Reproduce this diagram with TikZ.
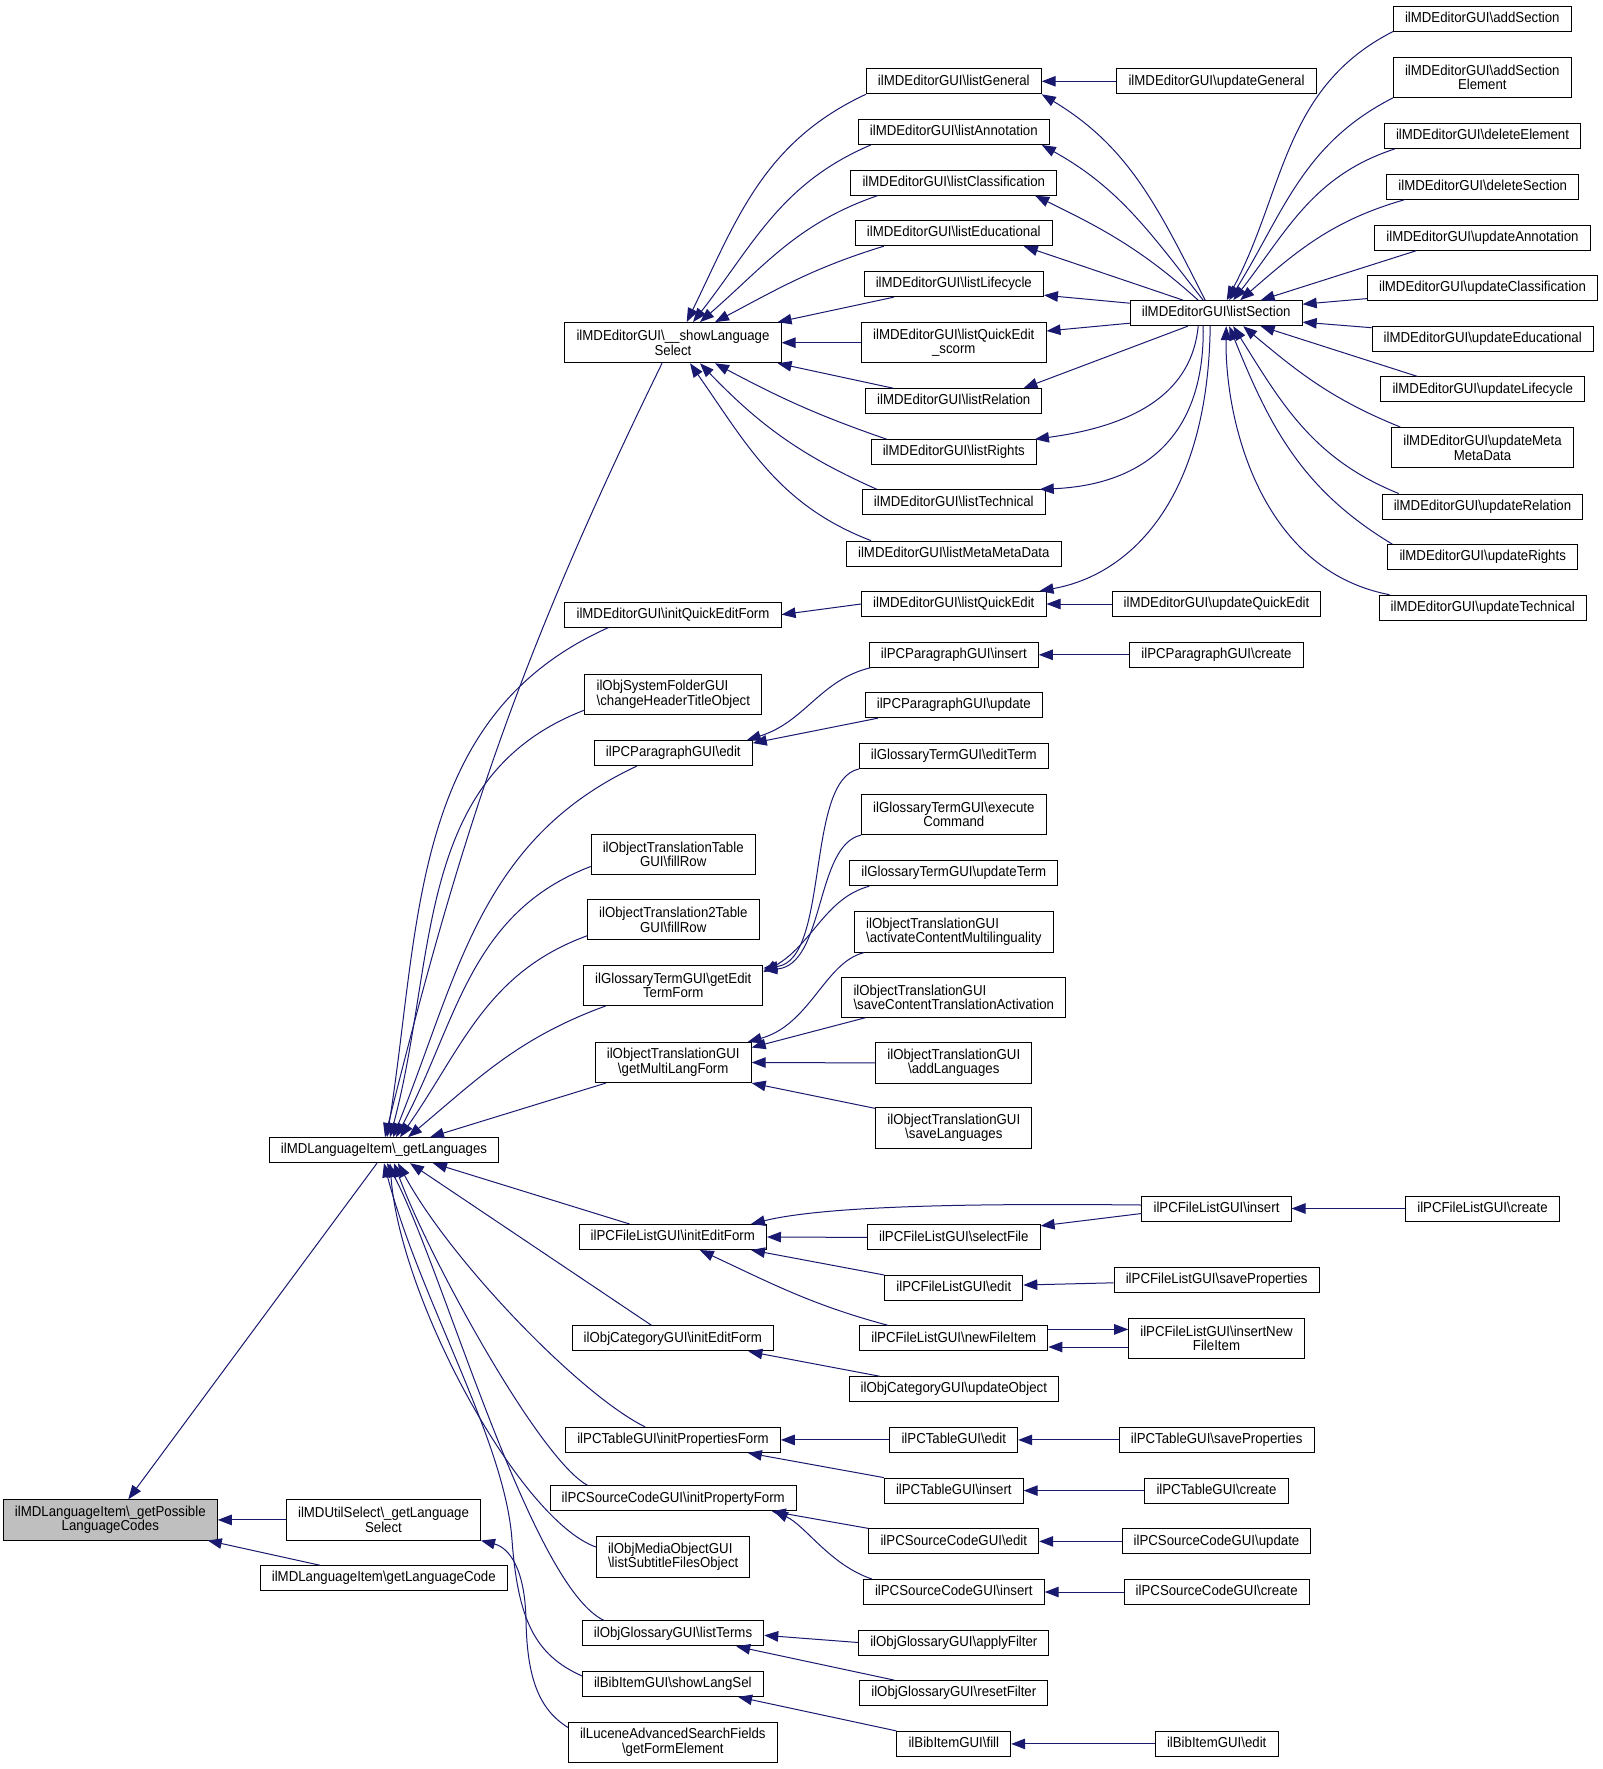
\documentclass[tikz,border=0pt]{standalone}
\usepackage{fontspec}
\setmainfont{Liberation Sans}[FakeStretch=0.92]
\usetikzlibrary{arrows.meta}
\definecolor{edgeblue}{HTML}{191970}
\definecolor{boxgray}{HTML}{BFBFBF}
\newcommand{\bksl}{\textbackslash{}}
\tikzset{
  fn/.style={draw=black,line width=1pt,fill=white,inner xsep=11.6pt,inner ysep=0pt,
    minimum height=25pt,text height=10.5pt,text depth=3pt,font=\fontsize{14.4}{14.5}\selectfont},
  fntwo/.style={draw=black,line width=1pt,fill=white,inner xsep=11.6pt,inner ysep=6pt,
    minimum height=40.2pt,align=center,font=\fontsize{14.4}{14.5}\selectfont},
  call/.style={draw=edgeblue,line width=1pt,-{Triangle[length=14pt,width=10.5pt]}}
}
\begin{document}
\begin{tikzpicture}[x=1pt,y=1pt]
\fill[white] (0,0) rectangle (1603,-1769);
\useasboundingbox (0,0) rectangle (1603,-1769);
\node[fntwo,fill=boxgray] (possible) at (110.3,-1519.9) {ilMDLanguageItem\bksl\_getPossible\\LanguageCodes};
\node[fn] (getlang) at (384,-1150.2) {ilMDLanguageItem\bksl\_getLanguages};
\node[fntwo] (langselect) at (383.5,-1519.9) {ilMDUtilSelect\bksl\_getLanguage\\Select};
\node[fn] (langcode) at (383.8,-1578.2) {ilMDLanguageItem\bksl getLanguageCode};
\node[fntwo] (showlang) at (673,-342.7) {ilMDEditorGUI\bksl\_\_showLanguage\\Select};
\node[fn] (initqe) at (673,-614.6) {ilMDEditorGUI\bksl initQuickEditForm};
\node[fntwo,align=left] (chheader) at (673.3,-694.5) {ilObjSystemFolderGUI\\\bksl changeHeaderTitleObject};
\node[fn] (paraedit) at (673.3,-753.1) {ilPCParagraphGUI\bksl edit};
\node[fntwo] (trtable) at (673.2,-854.5) {ilObjectTranslationTable\\GUI\bksl fillRow};
\node[fntwo] (tr2table) at (673.3,-919.8) {ilObjectTranslation2Table\\GUI\bksl fillRow};
\node[fntwo] (termform) at (673.2,-985.2) {ilGlossaryTermGUI\bksl getEdit\\TermForm};
\node[fntwo] (multilang) at (673.2,-1062.5) {ilObjectTranslationGUI\\\bksl getMultiLangForm};
\node[fn] (flinit) at (672.8,-1237) {ilPCFileListGUI\bksl initEditForm};
\node[fn] (catinit) at (672.8,-1338.4) {ilObjCategoryGUI\bksl initEditForm};
\node[fn] (tabinit) at (673,-1439.9) {ilPCTableGUI\bksl initPropertiesForm};
\node[fn] (srcinit) at (673.2,-1498.3) {ilPCSourceCodeGUI\bksl initPropertyForm};
\node[fntwo,align=left] (mediasub) at (673.2,-1557) {ilObjMediaObjectGUI\\\bksl listSubtitleFilesObject};
\node[fn] (listterms) at (673,-1633.3) {ilObjGlossaryGUI\bksl listTerms};
\node[fn] (showlangsel) at (672.8,-1683.9) {ilBibItemGUI\bksl showLangSel};
\node[fntwo] (lucene) at (672.8,-1742.5) {ilLuceneAdvancedSearchFields\\\bksl getFormElement};
\node[fn] (lgeneral) at (953.8,-81.3) {ilMDEditorGUI\bksl listGeneral};
\node[fn] (lannot) at (953.8,-132) {ilMDEditorGUI\bksl listAnnotation};
\node[fn] (lclass) at (953.8,-182.7) {ilMDEditorGUI\bksl listClassification};
\node[fn] (leduc) at (953.8,-233.2) {ilMDEditorGUI\bksl listEducational};
\node[fn] (llife) at (953.8,-284.2) {ilMDEditorGUI\bksl listLifecycle};
\node[fntwo] (lqescorm) at (953.8,-342.7) {ilMDEditorGUI\bksl listQuickEdit\\\_scorm};
\node[fn] (lrel) at (953.8,-401.2) {ilMDEditorGUI\bksl listRelation};
\node[fn] (lrights) at (953.8,-452.2) {ilMDEditorGUI\bksl listRights};
\node[fn] (ltech) at (953.8,-502.3) {ilMDEditorGUI\bksl listTechnical};
\node[fn] (lmeta) at (953.8,-553.6) {ilMDEditorGUI\bksl listMetaMetaData};
\node[fn] (lqe) at (953.8,-604) {ilMDEditorGUI\bksl listQuickEdit};
\node[fn] (parains) at (953.8,-654.8) {ilPCParagraphGUI\bksl insert};
\node[fn] (paraupd) at (953.8,-705.2) {ilPCParagraphGUI\bksl update};
\node[fn] (editterm) at (953.8,-756) {ilGlossaryTermGUI\bksl editTerm};
\node[fntwo] (execcmd) at (953.8,-814.5) {ilGlossaryTermGUI\bksl execute\\Command};
\node[fn] (updterm) at (953.8,-873.2) {ilGlossaryTermGUI\bksl updateTerm};
\node[fntwo,align=left] (actcontent) at (953.8,-932) {ilObjectTranslationGUI\\\bksl activateContentMultilinguality};
\node[fntwo,align=left] (savecontent) at (953.8,-997.1) {ilObjectTranslationGUI\\\bksl saveContentTranslationActivation};
\node[fntwo] (addlang) at (953.8,-1062.9) {ilObjectTranslationGUI\\\bksl addLanguages};
\node[fntwo] (savelang) at (953.8,-1128) {ilObjectTranslationGUI\\\bksl saveLanguages};
\node[fn] (flselect) at (953.8,-1237.4) {ilPCFileListGUI\bksl selectFile};
\node[fn] (fledit) at (953.8,-1288) {ilPCFileListGUI\bksl edit};
\node[fn] (flnewitem) at (953.8,-1338.4) {ilPCFileListGUI\bksl newFileItem};
\node[fn] (catupd) at (953.8,-1389.2) {ilObjCategoryGUI\bksl updateObject};
\node[fn] (tabedit) at (953.8,-1439.9) {ilPCTableGUI\bksl edit};
\node[fn] (tabins) at (953.8,-1490.6) {ilPCTableGUI\bksl insert};
\node[fn] (srcedit) at (953.8,-1541.4) {ilPCSourceCodeGUI\bksl edit};
\node[fn] (srcins) at (953.8,-1592) {ilPCSourceCodeGUI\bksl insert};
\node[fn] (applyfilter) at (953.8,-1642.5) {ilObjGlossaryGUI\bksl applyFilter};
\node[fn] (resetfilter) at (953.8,-1693.1) {ilObjGlossaryGUI\bksl resetFilter};
\node[fn] (bibfill) at (953.8,-1743.9) {ilBibItemGUI\bksl fill};
\node[fn] (ugeneral) at (1216.5,-81.3) {ilMDEditorGUI\bksl updateGeneral};
\node[fn] (lsection) at (1216.2,-313.2) {ilMDEditorGUI\bksl listSection};
\node[fn] (uqe) at (1216.5,-604) {ilMDEditorGUI\bksl updateQuickEdit};
\node[fn] (paracreate) at (1216.5,-654.8) {ilPCParagraphGUI\bksl create};
\node[fn] (flinsert) at (1216.5,-1208.5) {ilPCFileListGUI\bksl insert};
\node[fn] (flsave) at (1216.7,-1279.8) {ilPCFileListGUI\bksl saveProperties};
\node[fntwo] (flinsnew) at (1216.5,-1338.4) {ilPCFileListGUI\bksl insertNew\\FileItem};
\node[fn] (tabsave) at (1216.7,-1439.9) {ilPCTableGUI\bksl saveProperties};
\node[fn] (tabcreate) at (1216.5,-1490.6) {ilPCTableGUI\bksl create};
\node[fn] (srcupd) at (1216.5,-1541.4) {ilPCSourceCodeGUI\bksl update};
\node[fn] (srccreate) at (1216.7,-1592) {ilPCSourceCodeGUI\bksl create};
\node[fn] (bibedit) at (1216.7,-1743.9) {ilBibItemGUI\bksl edit};
\node[fn] (addsec) at (1482.3,-18.6) {ilMDEditorGUI\bksl addSection};
\node[fntwo] (addsecel) at (1482.3,-77.3) {ilMDEditorGUI\bksl addSection\\Element};
\node[fn] (delel) at (1482.5,-135.9) {ilMDEditorGUI\bksl deleteElement};
\node[fn] (delsec) at (1482.7,-186.8) {ilMDEditorGUI\bksl deleteSection};
\node[fn] (uannot) at (1482.5,-237.7) {ilMDEditorGUI\bksl updateAnnotation};
\node[fn] (uclass) at (1482.5,-287.6) {ilMDEditorGUI\bksl updateClassification};
\node[fn] (ueduc) at (1482.7,-338.7) {ilMDEditorGUI\bksl updateEducational};
\node[fn] (ulife) at (1482.7,-389.4) {ilMDEditorGUI\bksl updateLifecycle};
\node[fntwo] (umeta) at (1482.5,-447.6) {ilMDEditorGUI\bksl updateMeta\\MetaData};
\node[fn] (urel) at (1482.5,-506.5) {ilMDEditorGUI\bksl updateRelation};
\node[fn] (urights) at (1482.7,-557.2) {ilMDEditorGUI\bksl updateRights};
\node[fn] (utech) at (1482.7,-607.7) {ilMDEditorGUI\bksl updateTechnical};
\node[fn] (flcreate) at (1482.5,-1208.5) {ilPCFileListGUI\bksl create};
\draw[call] (addsec.south west) to[out=207,in=62] ([xshift=10.5pt]lsection.north);
\draw[call] (addsecel.south west) to[out=207,in=58] ([xshift=13pt]lsection.north);
\draw[call] ([xshift=11pt]delel.south west) to[out=198,in=52] ([xshift=17pt]lsection.north);
\draw[call] ([xshift=18pt]delsec.south west) to[out=196,in=41] ([xshift=24pt]lsection.north);
\draw[call] ([xshift=42pt]uannot.south west) -- ([xshift=-42pt]lsection.north east);
\draw[call] ([yshift=2pt]uclass.south west) -- ([yshift=9pt]lsection.east);
\draw[call] ([yshift=-2pt]ueduc.north west) -- ([yshift=-9pt]lsection.east);
\draw[call] ([xshift=37pt]ulife.north west) -- ([xshift=-42pt]lsection.south east);
\draw[call] ([xshift=9pt]umeta.north west) to[out=158,in=320] ([xshift=27pt]lsection.south);
\draw[call] ([xshift=17pt]urel.north west) to[out=158,in=302] ([xshift=17pt]lsection.south);
\draw[call] ([xshift=5pt]urights.north west) to[out=149,in=292] ([xshift=13pt]lsection.south);
\draw[call] ([xshift=11pt]utech.north west) .. controls (1260,-570) and (1225,-420) .. ([xshift=10pt]lsection.south);
\draw[call] ([xshift=-11pt]lsection.north) to[out=117,in=329] (lgeneral.south east);
\draw[call] ([xshift=-13pt]lsection.north) to[out=128,in=331] ([xshift=-8pt]lannot.south east);
\draw[call] ([xshift=-18pt]lsection.north) to[out=138,in=334] ([xshift=-22pt]lclass.south east);
\draw[call] ([xshift=-33pt]lsection.north) -- ([xshift=-29pt]leduc.south east);
\draw[call] ([yshift=-3pt]lsection.north west) -- ([yshift=2pt]llife.south east);
\draw[call] ([yshift=3pt]lsection.south west) -- ([yshift=11.7pt]lqescorm.east);
\draw[call] ([xshift=58pt]lsection.south west) -- ([xshift=-19pt]lrel.north east);
\draw[call] ([xshift=-18pt]lsection.south) .. controls (1192,-390) and (1140,-425) .. ([xshift=-2pt]lrights.north east);
\draw[call] ([xshift=-13pt]lsection.south) .. controls (1205,-440) and (1140,-485) .. ([xshift=-6pt]ltech.north east);
\draw[call] ([xshift=-6pt]lsection.south) .. controls (1208,-500) and (1130,-575) .. ([xshift=-7pt]lqe.north east);
\draw[call] (ugeneral.west) -- (lgeneral.east);
\draw[call] (lgeneral.south west) to[out=205,in=64] ([xshift=13.7pt]showlang.north);
\draw[call] ([xshift=13pt]lannot.south west) to[out=203,in=52] ([xshift=20pt]showlang.north);
\draw[call] ([xshift=27pt]lclass.south west) to[out=199,in=41] ([xshift=27pt]showlang.north);
\draw[call] ([xshift=29pt]leduc.south west) to[out=197,in=28] ([xshift=42pt]showlang.north);
\draw[call] ([xshift=30pt]llife.south west) -- ([xshift=-4pt]showlang.north east);
\draw[call] (lqescorm.west) -- (showlang.east);
\draw[call] ([xshift=28pt]lrel.north west) -- ([xshift=-4pt]showlang.south east);
\draw[call] ([xshift=16pt]lrights.north west) to[out=161,in=332] ([xshift=42pt]showlang.south);
\draw[call] ([xshift=15pt]ltech.north west) to[out=156,in=314] ([xshift=27pt]showlang.south);
\draw[call] ([xshift=25pt]lmeta.north west) to[out=159,in=305] ([xshift=17pt]showlang.south);
\draw[call] (lqe.west) -- (initqe.east);
\draw[call] (uqe.west) -- (lqe.east);
\draw[call] (paracreate.west) -- (parains.east);
\draw[call] ([xshift=1.4pt]parains.south west) .. controls (820,-680) and (805,-722) .. ([xshift=-6pt]paraedit.north east);
\draw[call] ([xshift=13pt]paraupd.south west) -- ([yshift=10pt]paraedit.east);
\draw[call] (editterm.south west) .. controls (805,-780) and (830,-960) .. ([yshift=17pt]termform.east);
\draw[call] (execcmd.south west) .. controls (815,-845) and (825,-965) .. ([yshift=15pt]termform.east);
\draw[call] ([xshift=20pt]updterm.south west) .. controls (825,-898) and (812,-945) .. ([yshift=13pt]termform.east);
\draw[call] ([xshift=10pt]actcontent.south west) .. controls (825,-962) and (810,-1025) .. ([xshift=-4pt]multilang.north east);
\draw[call] ([xshift=24pt]savecontent.south west) -- ([yshift=15pt]multilang.east);
\draw[call] (addlang.west) -- (multilang.east);
\draw[call] ([yshift=-1pt]savelang.north west) -- (multilang.south east);
\draw[call] ([xshift=-11pt]showlang.south) to[out=244,in=76] ([xshift=1pt]getlang.north);
\draw[call] ([xshift=44pt]initqe.south west) to[out=204,in=81] ([xshift=3pt]getlang.north);
\draw[call] ([yshift=5pt]chheader.south west) to[out=201,in=75] ([xshift=6pt]getlang.north);
\draw[call] ([xshift=43pt]paraedit.south west) to[out=205,in=68] ([xshift=9pt]getlang.north);
\draw[call] ([yshift=-12pt]trtable.west) to[out=201,in=62] ([xshift=12pt]getlang.north);
\draw[call] ([yshift=-16pt]tr2table.west) to[out=200,in=55] ([xshift=16pt]getlang.north);
\draw[call] ([xshift=23pt]termform.south west) to[out=200,in=40] ([xshift=24pt]getlang.north);
\draw[call] ([xshift=11pt]multilang.south west) -- ([xshift=46pt]getlang.north);
\draw[call] ([xshift=51pt]flinit.north west) -- ([xshift=49pt]getlang.south);
\draw[call] ([xshift=80pt]catinit.north west) -- ([xshift=26pt]getlang.south);
\draw[call] ([xshift=80pt]tabinit.north west) .. controls (580,-1395) and (450,-1260) .. ([xshift=14pt]getlang.south);
\draw[call] ([xshift=38pt]srcinit.north west) .. controls (540,-1460) and (430,-1260) .. ([xshift=10pt]getlang.south);
\draw[call] ([yshift=10pt]mediasub.west) .. controls (520,-1520) and (400,-1300) .. ([xshift=6pt]getlang.south);
\draw[call] ([xshift=22pt]listterms.north west) .. controls (530,-1585) and (440,-1260) .. ([xshift=3pt]getlang.south);
\draw[call] ([yshift=8pt]showlangsel.west) .. controls (535,-1655) and (518,-1620) .. (512,-1540) .. controls (505,-1440) and (420,-1300) .. (getlang.south);
\draw[call] ([xshift=-7pt]getlang.south) -- ([xshift=18pt]possible.north);
\draw[call] (langselect.west) -- (possible.east);
\draw[call] ([xshift=60pt]langcode.north west) -- ([xshift=-10pt]possible.south east);
\draw[call] ([yshift=-5.5pt]lucene.north west) .. controls (540,-1710) and (527,-1680) .. (526,-1620) .. controls (525,-1570) and (510,-1548) .. (langselect.south east);
\draw[call] ([yshift=3.5pt]flinsert.west) .. controls (950,-1203) and (820,-1207) .. ([xshift=-16pt]flinit.north east);
\draw[call] ([yshift=-5pt]flinsert.west) -- ([yshift=-1.5pt]flselect.north east);
\draw[call] (flcreate.west) -- (flinsert.east);
\draw[call] (flselect.west) -- (flinit.east);
\draw[call] (fledit.north west) -- ([xshift=-16pt]flinit.south east);
\draw[call] ([xshift=29pt]flnewitem.north west) to[out=165,in=335] ([xshift=27pt]flinit.south);
\draw[call] ([yshift=-3pt]flsave.west) -- ([yshift=3pt]fledit.east);
\draw[call] ([yshift=9pt]flnewitem.east) -- ([yshift=9pt]flinsnew.west);
\draw[call] ([yshift=-8.6pt]flinsnew.west) -- ([yshift=-8.6pt]flnewitem.east);
\draw[call] ([xshift=31pt]catupd.north west) -- ([xshift=-25.6pt]catinit.south east);
\draw[call] (tabedit.west) -- (tabinit.east);
\draw[call] (tabins.north west) -- ([xshift=-33pt]tabinit.south east);
\draw[call] (tabsave.west) -- (tabedit.east);
\draw[call] (tabcreate.west) -- (tabins.east);
\draw[call] (srcedit.north west) -- ([xshift=-25pt]srcinit.south east);
\draw[call] ([xshift=9pt]srcins.north west) .. controls (830,-1565) and (805,-1525) .. ([xshift=-23pt]srcinit.south east);
\draw[call] (srcupd.west) -- (srcedit.east);
\draw[call] (srccreate.west) -- (srcins.east);
\draw[call] (applyfilter.west) -- ([yshift=-2pt]listterms.east);
\draw[call] ([xshift=35pt]resetfilter.north west) -- ([xshift=-28pt]listterms.south east);
\draw[call] (bibfill.north west) -- ([xshift=-25.6pt]showlangsel.south east);
\draw[call] (bibedit.west) -- (bibfill.east);
\end{tikzpicture}
\end{document}
